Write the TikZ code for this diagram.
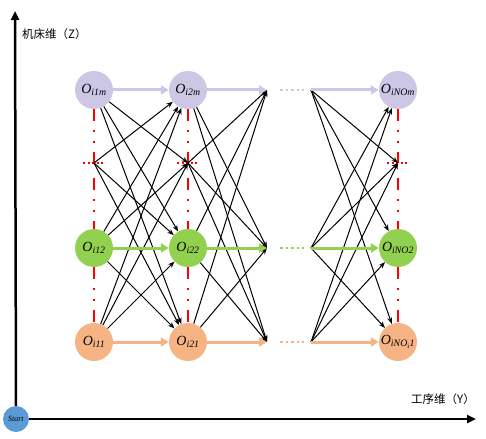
\documentclass[tikz,border=0pt]{standalone}
\usepackage{fontspec}
\setmainfont{Liberation Serif}
\newfontfamily\cjk{Noto Sans CJK SC}
\usetikzlibrary{arrows.meta}
\definecolor{lav}{RGB}{204,199,229}
\definecolor{grn}{RGB}{146,208,80}
\definecolor{org}{RGB}{246,180,132}
\definecolor{startblue}{RGB}{91,155,213}
\newcommand{\Op}[1]{\textit{O}\textsubscript{\textit{#1}}}
\begin{document}
\begin{tikzpicture}[x=1pt,y=-1pt,
  op/.style={circle,minimum size=38pt,inner sep=0pt,font=\fontsize{14}{14}\selectfont},
  edge/.style={-{Stealth[length=6.5pt,width=5pt]}, line width=1pt, black},
  flow/.style={line width=3pt, -{Triangle[length=8pt,width=9pt]}},
  gapdots/.style={line width=2pt, dash pattern=on 2.5pt off 3pt},
  redline/.style={red, line width=2pt, dash pattern=on 12pt off 9pt on 2pt off 9pt on 2pt off 9pt},
  reddots/.style={red, line width=1.5pt, dash pattern=on 2pt off 2.5pt},
  axis/.style={line width=2.5pt, black},
  cjklabel/.style={font=\cjk\fontsize{11.5}{11.5}\selectfont, inner sep=0pt}
]
\useasboundingbox (0,0) rectangle (486,438);

% nodes
\node[op,fill=lav] (a1m) at (94,90) {\Op{i1m}};
\node[op,fill=lav] (a2m) at (188,90) {\Op{i2m}};
\node[op,fill=lav] (aNm) at (398,90) {\Op{iNOm}};
\node[op,fill=grn] (a12) at (94,248) {\Op{i12}};
\node[op,fill=grn] (a22) at (188,248) {\Op{i22}};
\node[op,fill=grn] (aN2) at (398,248) {\Op{iNO2}};
\node[op,fill=org] (a11) at (94,342) {\Op{i11}};
\node[op,fill=org] (a21) at (188,342) {\Op{i21}};
\node[op,fill=org] (aN1) at (398,342) {\textit{O}\textsubscript{\textit{iNO}\textsubscript{i}\textit{1}}};

\coordinate (d1) at (94,163);
\coordinate (d2) at (188,163);
\coordinate (dN) at (398,163);
\coordinate (d1b) at (94,178);
\coordinate (d2b) at (188,178);
\coordinate (dNb) at (398,178);

\coordinate (gm) at (267,90);
\coordinate (g2) at (267,248);
\coordinate (g1) at (267,342);
\coordinate (hm) at (311,90);
\coordinate (h2) at (311,248);
\coordinate (h1) at (311,342);

% red vertical dashed lines
\foreach \c in {1,2,N}{
  \draw[redline] (a\c m.south) -- (d\c);
  \draw[redline] (d\c b) -- (a\c 2.north);
  \draw[redline] (a\c 2.south) -- (a\c 1.north);
}
% red dotted horizontal marks
\foreach \x in {94,188,398}{
  \coordinate (rl\x) at (\x-11,163);
  \coordinate (rr\x) at (\x+11,163);
  \draw[reddots] (rl\x) -- (rr\x);
}

% black edges column 1 -> column 2
\foreach \s/\t in {a1m/d2,a1m/a22,a1m/a21,
                   d1/a2m,d1/a22,d1/a21,
                   a12/a2m,a12/d2,a12/a21,
                   a11/a2m,a11/d2,a11/a22}{
  \draw[edge] (\s) -- (\t);
}
% column 2 -> gap
\foreach \s/\t in {a2m/g2,a2m/g1,
                   d2/gm,d2/g2,d2/g1,
                   a22/gm,a22/g1,
                   a21/gm,a21/g2}{
  \draw[edge] (\s) -- (\t);
}
% gap -> last column
\foreach \s/\t in {hm/dN,hm/aN2,hm/aN1,
                   h2/aNm,h2/dN,h2/aN1,
                   h1/aNm,h1/dN,h1/aN2}{
  \draw[edge] (\s) -- (\t);
}

% coloured flows
\foreach \r/\col in {m/lav,2/grn,1/org}{
  \draw[flow,\col] (a1\r) -- (a2\r);
  \draw[flow,\col] (a2\r) -- (g\r);
  \draw[flow,\col] (h\r) -- (aN\r);
}
\coordinate (pm1) at (280,90);  \coordinate (pm2) at (304,90);
\coordinate (p21) at (280,248); \coordinate (p22) at (304,248);
\coordinate (p11) at (280,342); \coordinate (p12) at (304,342);
\draw[gapdots,lav] (pm1) -- (pm2);
\draw[gapdots,grn] (p21) -- (p22);
\draw[gapdots,org] (p11) -- (p12);

% axes
\coordinate (ztop) at (15,11);
\coordinate (yend) at (476,419);
\node[circle,fill=startblue,minimum size=26pt,inner sep=0pt,font=\fontsize{8}{8}\selectfont] (start) at (16,419) {\textit{Start}};
\draw[axis,-{Triangle[length=9pt,width=8pt]}] (start.north) -- (ztop);
\draw[axis,-{Triangle[length=9pt,width=8pt]}] (start.east) -- (yend);
\node[cjklabel,anchor=west] (zl) at (22,34) {机床维（Z）};
\node[cjklabel,anchor=west] (yl) at (411,399) {工序维（Y）};
\end{tikzpicture}
\end{document}
